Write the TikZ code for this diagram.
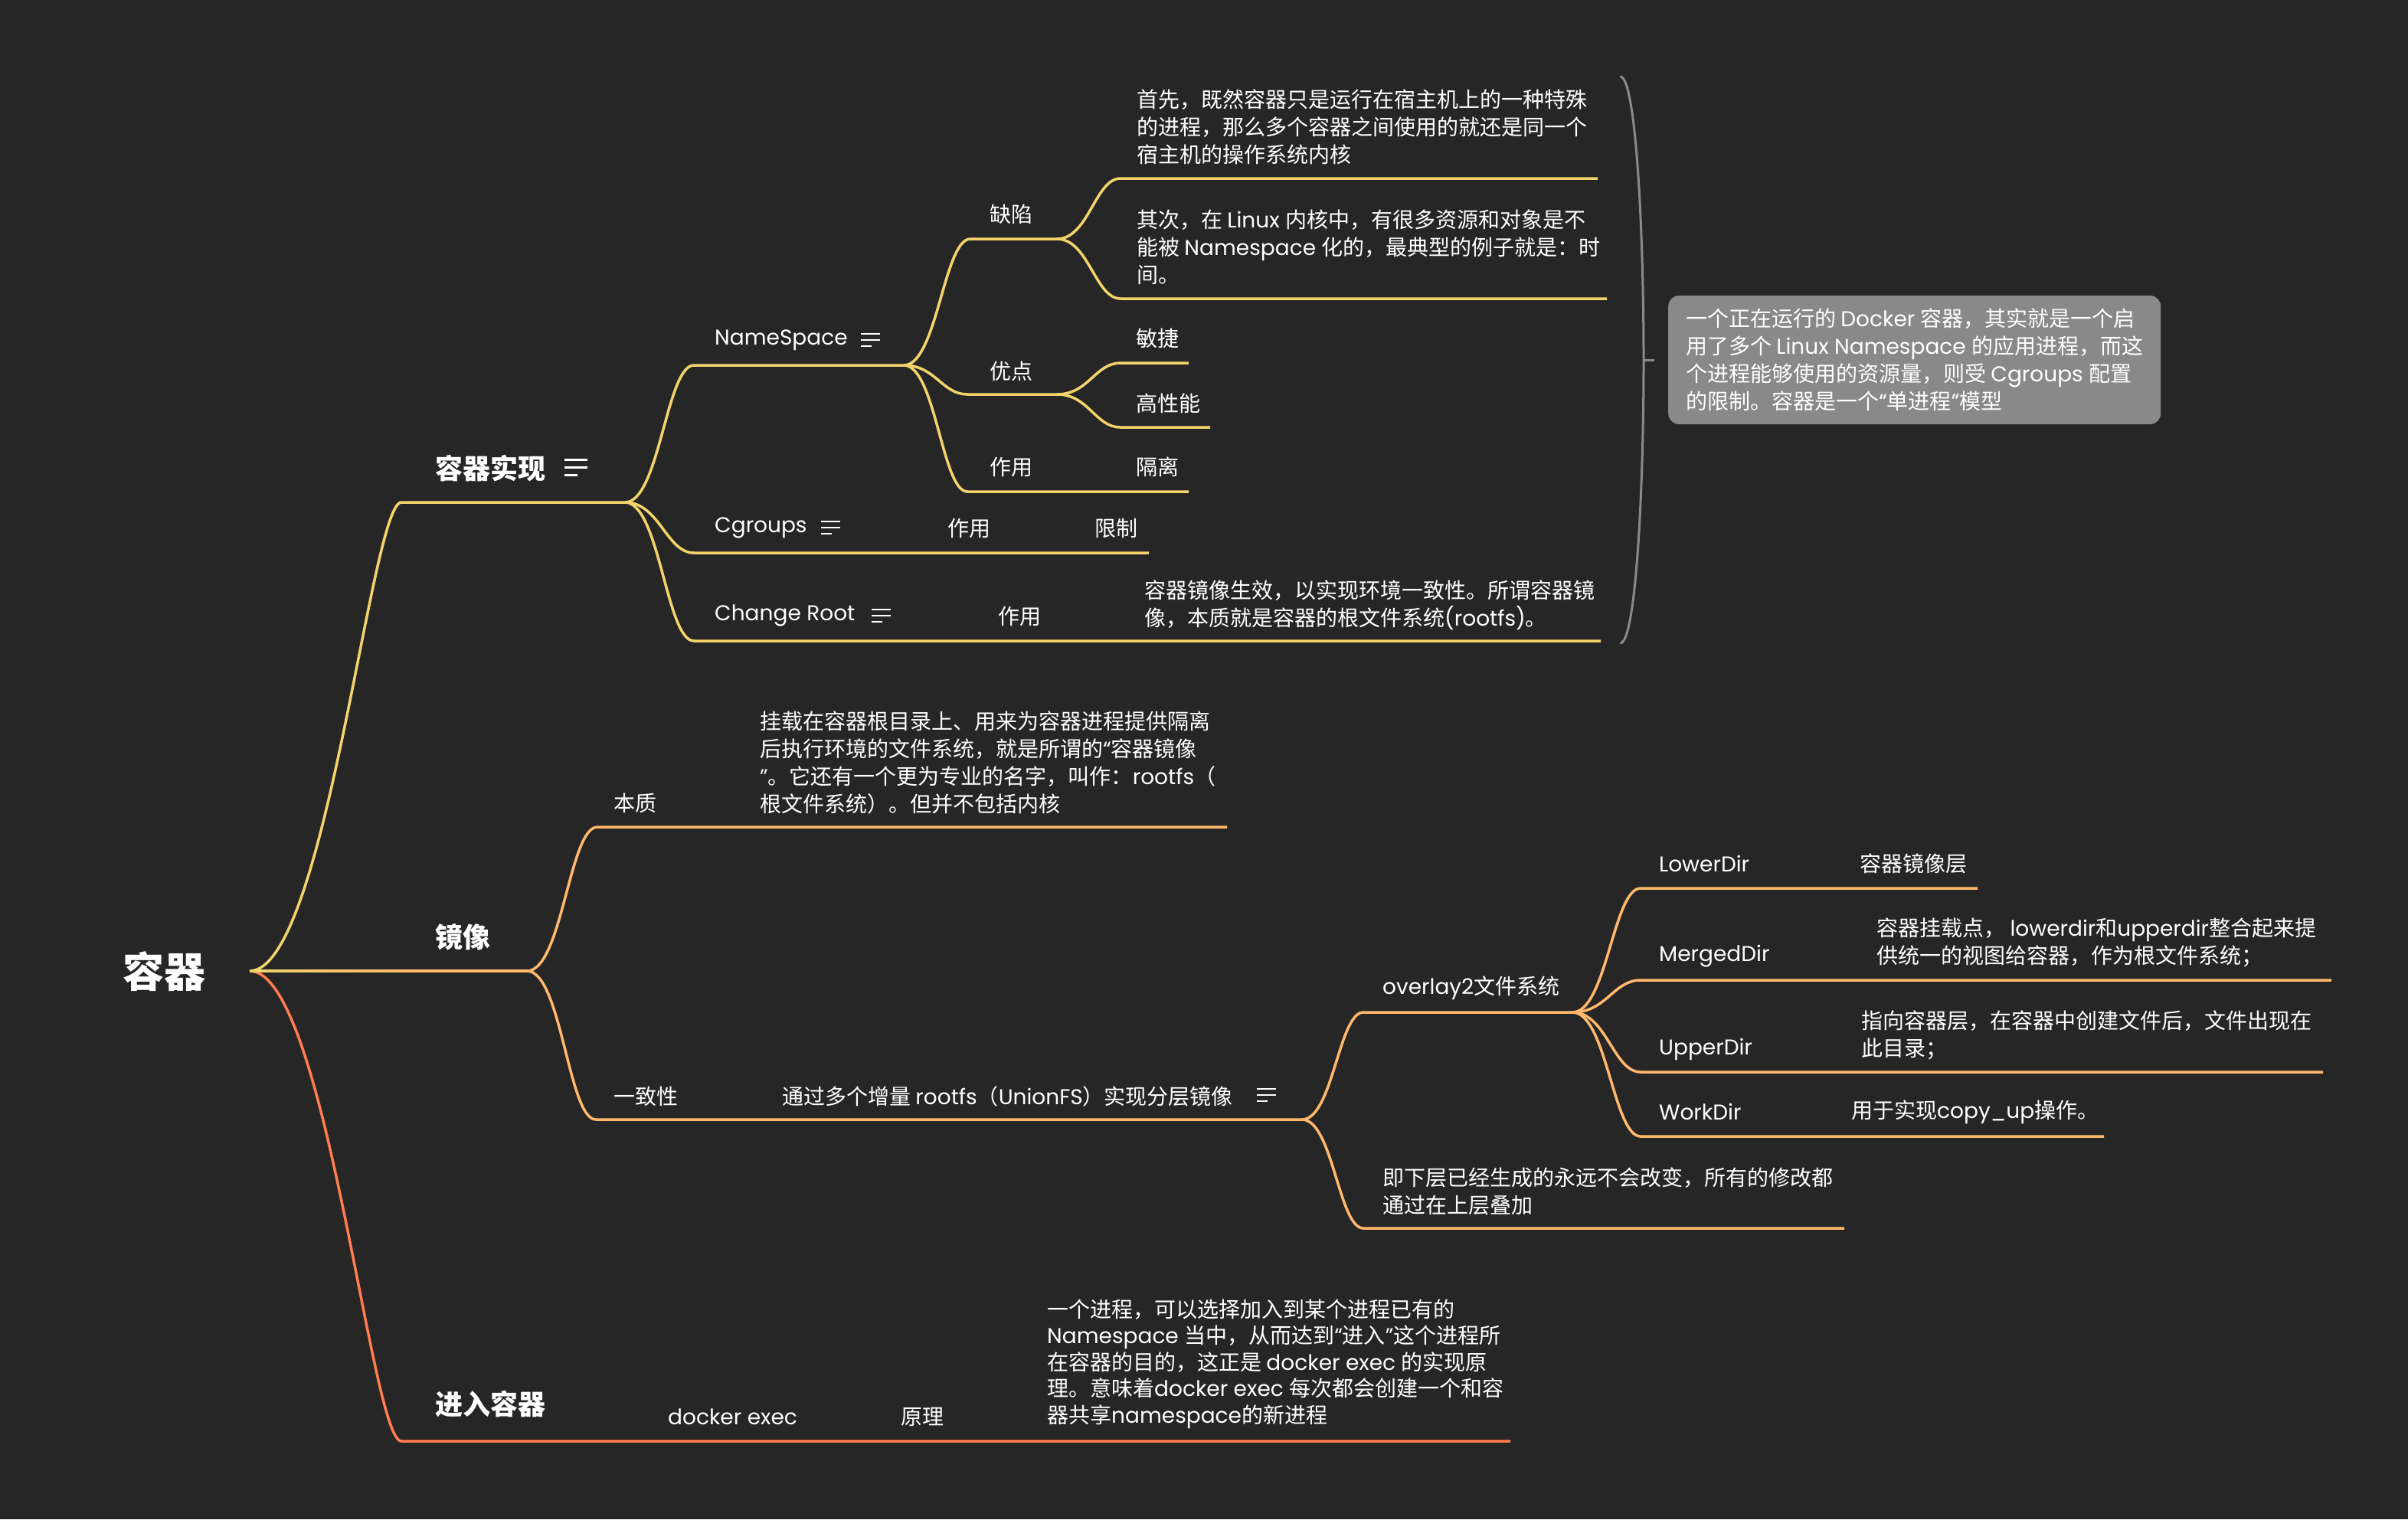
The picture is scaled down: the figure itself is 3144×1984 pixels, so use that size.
\documentclass[tikz,border=0pt]{standalone}
\usepackage{fontspec}
\setmainfont{Poppins}
\newfontfamily\cjkfam{Noto Sans CJK SC}
\usetikzlibrary{calc}
\XeTeXinterchartokenstate=1
\newXeTeXintercharclass\CJKcls
\makeatletter
\def\setcjkrange#1#2{\count@=#1\relax\loop\XeTeXcharclass\count@=\CJKcls\relax\ifnum\count@<#2\relax\advance\count@ by 1\relax\repeat}
\setcjkrange{"3000}{"303F}
\setcjkrange{"4E00}{"9FFF}
\setcjkrange{"FF00}{"FFEF}
\makeatother
\XeTeXinterchartoks 0 \CJKcls = {\cjkfam}
\XeTeXinterchartoks 4095 \CJKcls = {\cjkfam}
\XeTeXinterchartoks \CJKcls 0 = {\rmfamily}
\XeTeXinterchartoks 4095 0 = {\rmfamily}

\definecolor{bg}{HTML}{262626}
\definecolor{ylw}{HTML}{F2D46B}
\definecolor{org}{HTML}{FFB86C}
\definecolor{red}{HTML}{FF7D50}
\definecolor{brk}{HTML}{8A8A8A}
\definecolor{boxc}{HTML}{898989}

\tikzset{
  txt/.style={text=white, inner sep=0pt, anchor=west, align=left,
    font=\fontsize{28}{36}\selectfont},
  maintopic/.style={txt, font=\bfseries\fontsize{36}{44}\selectfont},
  roottopic/.style={text=white, inner sep=0pt, font=\bfseries\fontsize{54}{60}\selectfont},
  lnY/.style={draw=ylw, line width=3.5pt},
  lnO/.style={draw=org, line width=3.5pt},
  lnR/.style={draw=red, line width=3.5pt},
  sumbox/.style={txt, fill=boxc, rounded corners=14pt, inner xsep=0pt,
    minimum width=643pt, minimum height=168pt},
  notes/.pic={\draw[white, line width=2.6pt] (0,0) -- (25,0) (0,8) -- (25,8) (0,16) -- (14,16);},
  bignotes/.pic={\draw[white, line width=3pt] (0,0) -- (30,0) (0,10) -- (30,10) (0,20) -- (17,20);}
}

% curve from the end of #2 to the start of #3, then the underline of #3
\newcommand\branch[4][]{%
  \draw[#1] let \p1=(#2-e), \p2=(#3-s),
    \p3=($(#2-e)!0.5!(#3-s)$), \p4=($(#2-e)!#4!(#3-s)$) in
    (\p1) .. controls (\x3,\y1) and (\x4,\y2) .. (\p2) -- (#3-e);}

\begin{document}
\begin{tikzpicture}[x=1pt,y=-1pt]
\useasboundingbox (0,0) rectangle (3144,1984);
\fill[bg] (0,0) rectangle (3144,1984);

% ---------- junction coordinates ----------
\coordinate (root-e) at (326,1268);
\coordinate (t1-s) at (524,656);   \coordinate (t1-e) at (816,656);
\coordinate (t2-s) at (326,1268);  \coordinate (t2-e) at (688,1268);
\coordinate (t3-s) at (524,1882);  \coordinate (t3-e) at (1972,1882);
\coordinate (ns-s) at (906,477);   \coordinate (ns-e) at (1180,477);
\coordinate (cg-s) at (906,722);   \coordinate (cg-e) at (1500,722);
\coordinate (cr-s) at (906,837);   \coordinate (cr-e) at (2090,837);
\coordinate (qx-s) at (1267,312);  \coordinate (qx-e) at (1380,312);
\coordinate (d1-s) at (1463,233);  \coordinate (d1-e) at (2086,233);
\coordinate (d2-s) at (1463,390);  \coordinate (d2-e) at (2098,390);
\coordinate (yd-s) at (1263,515);  \coordinate (yd-e) at (1380,515);
\coordinate (mj-s) at (1463,474);  \coordinate (mj-e) at (1552,474);
\coordinate (gx-s) at (1463,558);  \coordinate (gx-e) at (1580,558);
\coordinate (zy-s) at (1263,642);  \coordinate (zy-e) at (1552,642);
\coordinate (bz-s) at (780,1080);  \coordinate (bz-e) at (1602,1080);
\coordinate (yz-s) at (778,1462);  \coordinate (yz-e) at (1700,1462);
\coordinate (ov-s) at (1780,1322); \coordinate (ov-e) at (2053,1322);
\coordinate (jx-s) at (1780,1604); \coordinate (jx-e) at (2408,1604);
\coordinate (lo-s) at (2142,1160); \coordinate (lo-e) at (2582,1160);
\coordinate (me-s) at (2142,1280); \coordinate (me-e) at (3044,1280);
\coordinate (up-s) at (2142,1400); \coordinate (up-e) at (3033,1400);
\coordinate (wo-s) at (2142,1484); \coordinate (wo-e) at (2747,1484);
\coordinate (brt) at (2116,100);
\coordinate (brm) at (2146,470);
\coordinate (brb) at (2116,840);
\coordinate (brk) at (2160,470);

% ---------- connectors ----------
\branch[lnY]{root}{t1}{0.8}
\branch[lnR]{root}{t3}{0.8}
\draw[lnO] (t2-s) -- (t2-e);
\shade[left color=ylw, right color=org] ($(t2-s)+(0,-1.75)$) rectangle ($(t2-s)!0.6!(t2-e)+(0,1.75)$);

\branch[lnY]{t1}{ns}{0.6}
\branch[lnY]{t1}{cg}{0.6}
\branch[lnY]{t1}{cr}{0.6}
\branch[lnY]{ns}{qx}{0.6}
\branch[lnY]{ns}{yd}{0.6}
\branch[lnY]{ns}{zy}{0.6}
\branch[lnY]{qx}{d1}{0.6}
\branch[lnY]{qx}{d2}{0.6}
\branch[lnY]{yd}{mj}{0.6}
\branch[lnY]{yd}{gx}{0.6}

\branch[lnO]{t2}{bz}{0.6}
\branch[lnO]{t2}{yz}{0.6}
\branch[lnO]{yz}{ov}{0.6}
\branch[lnO]{yz}{jx}{0.6}
\branch[lnO]{ov}{lo}{0.6}
\branch[lnO]{ov}{me}{0.6}
\branch[lnO]{ov}{up}{0.6}
\branch[lnO]{ov}{wo}{0.6}

% summary bracket
\draw[brk, line width=3pt, line cap=round] (brt) .. controls (2136,104) and (2146,300) .. (brm)
  .. controls (2146,640) and (2136,836) .. (brb);
\draw[brk, line width=3pt] (brm) -- (brk);

% ---------- texts ----------
\node[roottopic] (root) at (214,1269) {容器};

\node[maintopic] (t1) at (568,612) {容器实现};
\pic at (737,600) {bignotes};
\node[maintopic] (t2) at (568,1224) {镜像};
\node[maintopic] (t3) at (568,1834) {进入容器};

\node[txt] (ns) at (933,444) {NameSpace};
\pic at (1124,436) {notes};
\node[txt] (cg) at (933,689) {Cgroups};
\pic at (1072,681) {notes};
\node[txt] (cgzy) at (1237,690) {作用};
\node[txt] (cgxz) at (1429,690) {限制};
\node[txt] (cr) at (933,804) {Change Root};
\pic at (1138,796) {notes};
\node[txt] (crzy) at (1303,805) {作用};
\node[txt] (crtx) at (1494,790) {容器镜像生效，以实现环境一致性。所谓容器镜\\像，本质就是容器的根文件系统(rootfs)。};

\node[txt] (qx) at (1292,280) {缺陷};
\node[txt] (d1) at (1484,166) {首先，既然容器只是运行在宿主机上的一种特殊\\的进程，那么多个容器之间使用的就还是同一个\\宿主机的操作系统内核};
\node[txt] (d2) at (1484,323) {其次，在 Linux 内核中，有很多资源和对象是不\\能被 Namespace 化的，最典型的例子就是：时\\间。};
\node[txt] (yd) at (1292,485) {优点};
\node[txt] (mj) at (1483,442) {敏捷};
\node[txt] (gx) at (1483,527) {高性能};
\node[txt] (zy) at (1292,610) {作用};
\node[txt] (gl) at (1483,610) {隔离};

\node[sumbox] (sum) at (2178,470) {一个正在运行的 Docker 容器，其实就是一个启\\用了多个 Linux Namespace 的应用进程，而这\\个进程能够使用的资源量，则受 Cgroups 配置\\的限制。容器是一个“单进程”模型};

\node[txt] (bz) at (801,1049) {本质};
\node[txt] (bztx) at (992,996) {挂载在容器根目录上、用来为容器进程提供隔离\\后执行环境的文件系统，就是所谓的“容器镜像\\”。它还有一个更为专业的名字，叫作：rootfs（\\根文件系统）。但并不包括内核};
\node[txt] (yz) at (801,1432) {一致性};
\node[txt] (tg) at (1021,1432) {通过多个增量 rootfs（UnionFS）实现分层镜像};
\pic at (1641,1422) {notes};

\node[txt] (ov) at (1805,1290) {overlay2文件系统};
\node[txt] (jx) at (1805,1556) {即下层已经生成的永远不会改变，所有的修改都\\通过在上层叠加};
\node[txt] (lo) at (2166,1128) {LowerDir};
\node[txt] (lotx) at (2428,1128) {容器镜像层};
\node[txt] (me) at (2166,1249) {MergedDir};
\node[txt] (metx) at (2450,1231) {容器挂载点， lowerdir和upperdir整合起来提\\供统一的视图给容器，作为根文件系统；};
\node[txt] (up) at (2166,1370) {UpperDir};
\node[txt] (uptx) at (2430,1352) {指向容器层，在容器中创建文件后，文件出现在\\此目录；};
\node[txt] (wo) at (2166,1452) {WorkDir};
\node[txt] (wotx) at (2417,1452) {用于实现copy\_up操作。};

\node[txt] (de) at (872,1850) {docker exec};
\node[txt] (yl) at (1176,1850) {原理};
\node[txt, font=\fontsize{28}{34.5}\selectfont] (yltx) at (1367,1781) {一个进程，可以选择加入到某个进程已有的\\Namespace 当中，从而达到“进入”这个进程所\\在容器的目的，这正是 docker exec 的实现原\\理。意味着docker exec 每次都会创建一个和容\\器共享namespace的新进程};
\end{tikzpicture}
\end{document}
